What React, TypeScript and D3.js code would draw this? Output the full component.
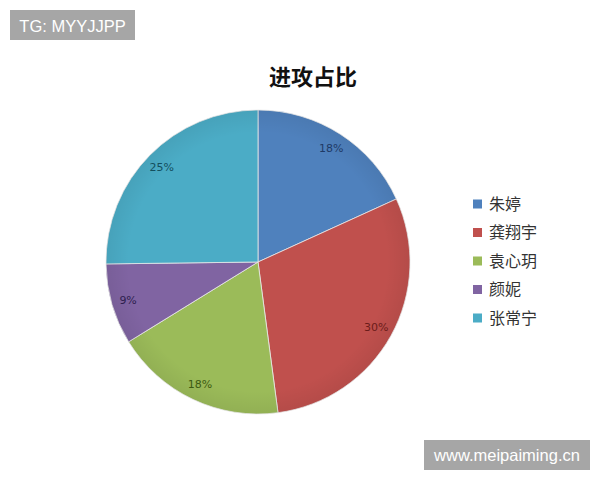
import * as d3 from 'd3';

const NAMES = ['朱婷', '龚翔宇', '袁心玥', '颜妮', '张常宁'];
const SHARES = [18.2, 29.7, 18.3, 8.6, 25.2];
const LABELS = ['18%', '30%', '18%', '9%', '25%'];
const FILLS = ['#4f81bd', '#c0504d', '#9bbb59', '#8064a2', '#4bacc6'];
const LABEL_COLORS = ['#1f3a66', '#6b1c1a', '#3d5a12', '#2e1f4f', '#134f5e'];

const TITLE = '进攻占比';
const MARK_TOP = 'TG: MYYJJPP';
const MARK_BOTTOM = 'www.meipaiming.cn';

const WIDTH = 600;
const HEIGHT = 480;
const CX = 258;
const CY = 262;
const RADIUS = 152;

function App() {
  const pie = d3.pie<number>().sort(null).value(d => d);
  const arcs = pie(SHARES);
  const arc = d3.arc<d3.PieArcDatum<number>>().innerRadius(0).outerRadius(RADIUS);
  const labelArc = d3.arc<d3.PieArcDatum<number>>().innerRadius(RADIUS * 0.89).outerRadius(RADIUS * 0.89);

  const legendY = d3.scalePoint<string>()
    .domain(NAMES)
    .range([204, 318]);

  return (
    <svg
      width={WIDTH}
      height={HEIGHT}
      style={{ position: 'absolute', left: 0, top: 0, background: '#fff' }}
    >
      <defs>
        <radialGradient id="shade" cx="0.5" cy="0.5" r="0.5">
          <stop offset="0.85" stopColor="#000" stopOpacity={0} />
          <stop offset="1" stopColor="#000" stopOpacity={0.06} />
        </radialGradient>
      </defs>

      <text
        x={313}
        y={85}
        textAnchor="middle"
        fontFamily="'Noto Sans CJK SC', sans-serif"
        fontWeight={600}
        fontSize={22}
        fill="#111"
      >
        {TITLE}
      </text>

      <g transform={`translate(${CX},${CY})`}>
        {arcs.map((a, i) => (
          <path key={NAMES[i]} d={arc(a) || ''} fill={FILLS[i]} stroke="#e8e8e8" strokeWidth={0.8} />
        ))}
        <circle r={RADIUS} fill="url(#shade)" />
        {arcs.map((a, i) => {
          const [lx, ly] = labelArc.centroid(a);
          return (
            <text
              key={`l-${NAMES[i]}`}
              x={lx}
              y={ly}
              dy="0.35em"
              textAnchor="middle"
              fontFamily="'DejaVu Sans', sans-serif"
              fontSize={11}
              fill={LABEL_COLORS[i]}
            >
              {LABELS[i]}
            </text>
          );
        })}
      </g>

      <g fontFamily="'Noto Sans CJK SC', sans-serif" fontSize={16} fill="#333">
        {NAMES.map((name, i) => {
          const y = legendY(name) || 0;
          return (
            <g key={`g-${name}`}>
              <rect x={473} y={y - 4.5} width={9} height={9} fill={FILLS[i]} />
              <text x={489} y={y} dy="0.36em">{name}</text>
            </g>
          );
        })}
      </g>

      <rect x={10} y={10} width={125} height={30} fill="#a6a6a6" />
      <text x={72.5} y={31.5} textAnchor="middle" fontFamily="'Liberation Sans', Arial, sans-serif" fontSize={16.5} fill="#fff">
        {MARK_TOP}
      </text>

      <rect x={424} y={440} width={166} height={30} fill="#a6a6a6" />
      <text x={507} y={461} textAnchor="middle" fontFamily="'Liberation Sans', Arial, sans-serif" fontSize={16.5} fill="#fff">
        {MARK_BOTTOM}
      </text>
    </svg>
  );
}

export default App;
